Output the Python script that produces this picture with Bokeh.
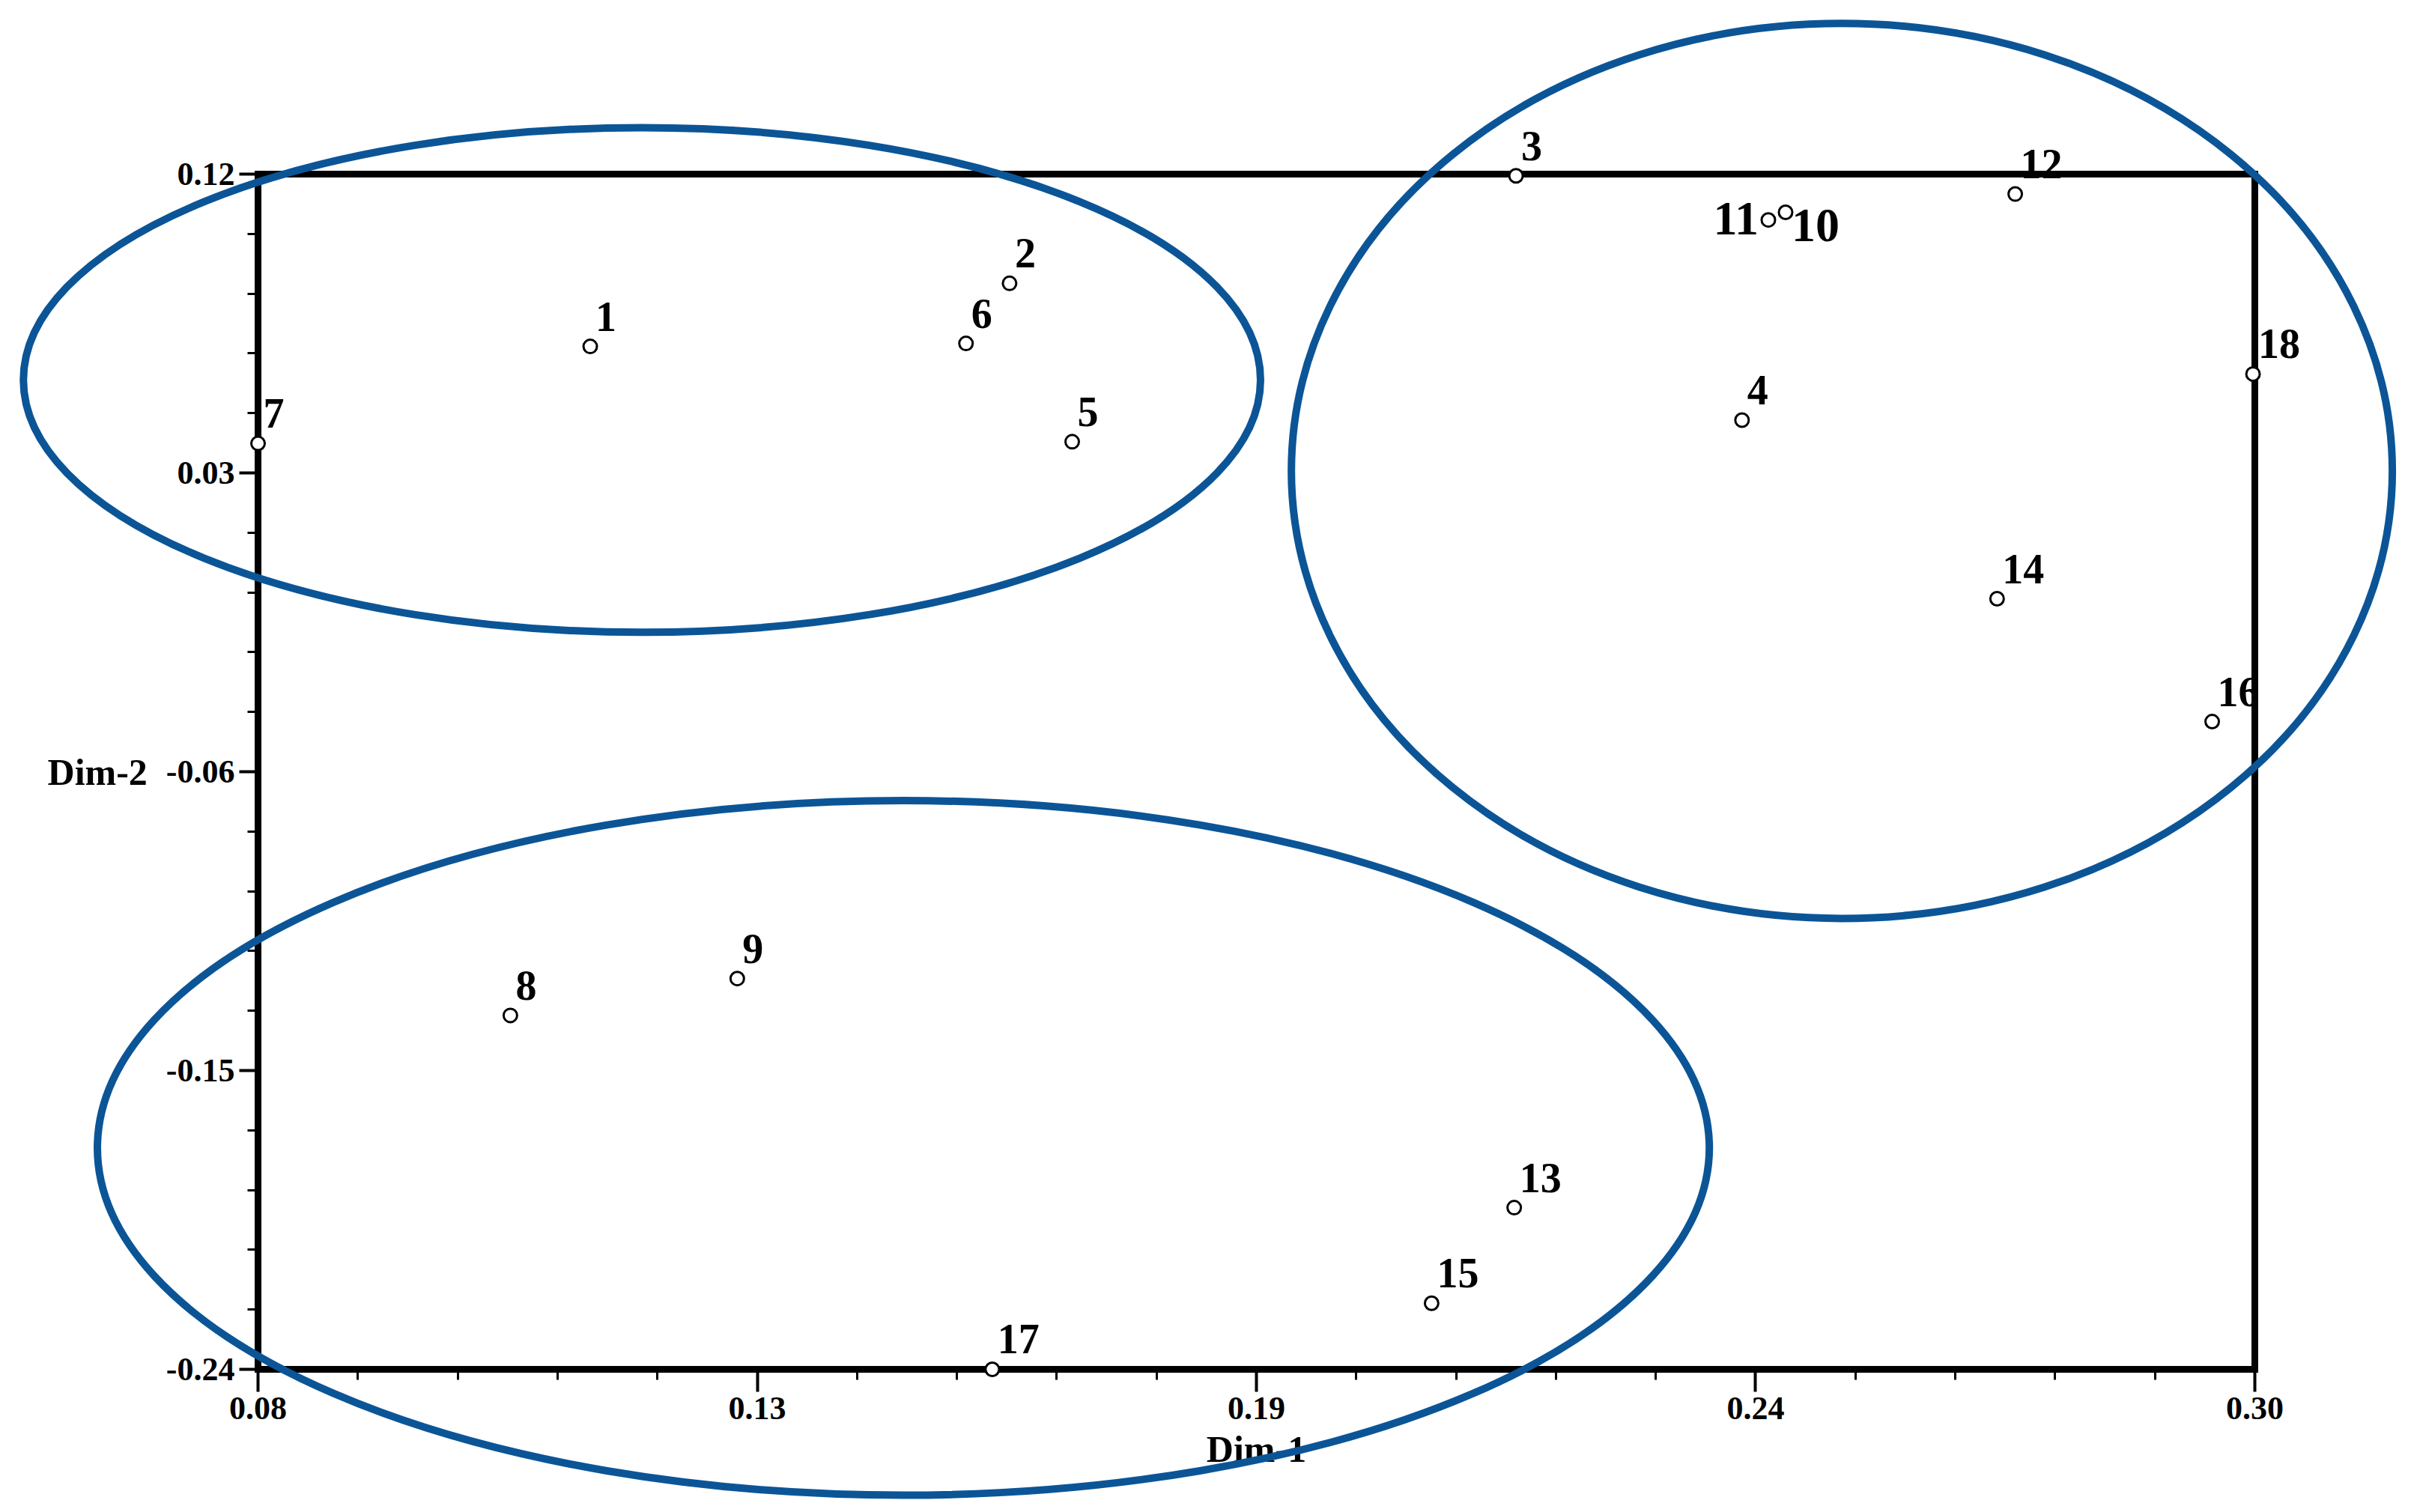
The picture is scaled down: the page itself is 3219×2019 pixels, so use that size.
import numpy as np
from bokeh.plotting import figure
from bokeh.models import Range1d, LinearAxis, FixedTicker, ColumnDataSource
from bokeh.core.properties import value
from bokeh.embed import file_html
from bokeh.resources import INLINE

# ---------------- data ----------------
point_labels = ["1", "2", "3", "4", "5", "6", "7", "8", "9",
                "12", "13", "14", "15", "16", "17", "18"]
point_x = [0.1166, 0.1628, 0.2186, 0.2435, 0.1697, 0.1580, 0.0800, 0.1078, 0.1328,
           0.2736, 0.2184, 0.2716, 0.2093, 0.2953, 0.1609, 0.2998]
point_y = [0.0681, 0.0871, 0.1195, 0.0459, 0.0394, 0.0690, 0.0389, -0.1334, -0.1223,
           0.1140, -0.1913, -0.0079, -0.2201, -0.0449, -0.2400, 0.0598]

# the two overlapping points drawn with their own label placement
pair_labels = ["11", "10"]
pair_x = [0.2464, 0.2483]
pair_y = [0.1062, 0.1085]

# cluster ellipses
ell_x = [0.1223, 0.2545, 0.1511]
ell_y = [0.0580, 0.0306, -0.1733]
ell_w = [0.1363, 0.1213, 0.1776]
ell_h = [0.1520, 0.2696, 0.2093]

x_ticks = [0.08, 0.135, 0.19, 0.245, 0.30]
x_tick_labels = ["0.08", "0.13", "0.19", "0.24", "0.30"]
y_ticks = [-0.24, -0.15, -0.06, 0.03, 0.12]
y_tick_labels = ["-0.24", "-0.15", "-0.06", "0.03", "0.12"]
x_title = "Dim-1"
y_title = "Dim-2"

# minor ticks: 5 subdivisions between majors
def minors(ticks):
    out = []
    for a, b in zip(ticks[:-1], ticks[1:]):
        out.extend(np.linspace(a, b, 6)[1:-1].tolist())
    return out

x_minor = minors(x_ticks)
y_minor = minors(y_ticks)

# ---------------- figure ----------------
W, H = 3203, 2003
p = figure(width=W, height=H,
           x_range=Range1d(0.051612, 0.315927),
           y_range=Range1d(-0.279477, 0.172335),
           x_axis_location=None, y_axis_location=None,
           toolbar_location=None, output_backend="svg",
           min_border=0)
p.outline_line_color = None
p.background_fill_color = "white"
p.border_fill_color = "white"
for g in p.grid:
    g.visible = False

FONT = "Liberation Serif"

xaxis = LinearAxis(
    fixed_location=y_ticks[0],
    bounds=(x_ticks[0], x_ticks[-1]),
    ticker=FixedTicker(ticks=x_ticks, minor_ticks=x_minor),
    major_label_overrides=dict(zip(x_ticks, x_tick_labels)),
    axis_label=x_title,
)
yaxis = LinearAxis(
    fixed_location=x_ticks[0],
    bounds=(y_ticks[0], y_ticks[-1]),
    ticker=FixedTicker(ticks=y_ticks, minor_ticks=y_minor),
    major_label_overrides=dict(zip(y_ticks, y_tick_labels)),
    axis_label=y_title,
    axis_label_orientation="horizontal",
)
for ax, major_out in ((xaxis, 30), (yaxis, 25)):
    ax.axis_line_width = 9
    ax.axis_line_color = "black"
    ax.major_tick_in = 0
    ax.major_tick_out = major_out
    ax.major_tick_line_width = 4
    ax.major_tick_line_color = "black"
    ax.minor_tick_in = 0
    ax.minor_tick_out = 14
    ax.minor_tick_line_width = 3
    ax.minor_tick_line_color = "black"
    ax.major_label_text_font = FONT
    ax.major_label_text_font_style = "bold"
    ax.major_label_text_font_size = "44px"
    ax.major_label_text_color = "black"
    ax.axis_label_text_font = FONT
    ax.axis_label_text_font_style = "bold"
    ax.axis_label_text_font_size = "50px"
    ax.axis_label_text_color = "black"
xaxis.major_label_standoff = 8
xaxis.axis_label_standoff = 8
yaxis.major_label_standoff = 6
yaxis.axis_label_standoff = 22

p.add_layout(xaxis, "below")
p.add_layout(yaxis, "left")

# top and right edges of the box
p.quad(left=x_ticks[0], right=x_ticks[-1], bottom=y_ticks[0], top=y_ticks[-1],
       fill_color=None, line_color="black", line_width=9, line_join="miter")

# points
src = ColumnDataSource(dict(x=point_x, y=point_y, label=point_labels))
p.scatter("x", "y", source=src, marker="circle", size=18,
          fill_color="white", line_color="black", line_width=3, level="overlay")
p.text("x", "y", text="label", source=src, x_offset=7, y_offset=-40,
       text_font=value(FONT), text_font_style="bold", text_font_size="56px",
       text_color="black", text_align="left", text_baseline="middle",
       level="overlay")

psrc = ColumnDataSource(dict(x=pair_x, y=pair_y, label=pair_labels,
                             align=["right", "left"], xo=[-13, 8], yo=[-2, 18]))
p.scatter("x", "y", source=psrc, marker="circle", size=18,
          fill_color="white", line_color="black", line_width=3, level="overlay")
p.text("x", "y", text="label", source=psrc, x_offset="xo", y_offset="yo",
       text_font=value(FONT), text_font_style="bold", text_font_size="64px",
       text_color="black", text_align="align", text_baseline="middle",
       level="overlay")

# ellipses
p.ellipse(x=ell_x, y=ell_y, width=ell_w, height=ell_h,
          fill_color=None, line_color="#0b5597", line_width=10, level="overlay")

open("out.html", "w").write(file_html(p, INLINE))
